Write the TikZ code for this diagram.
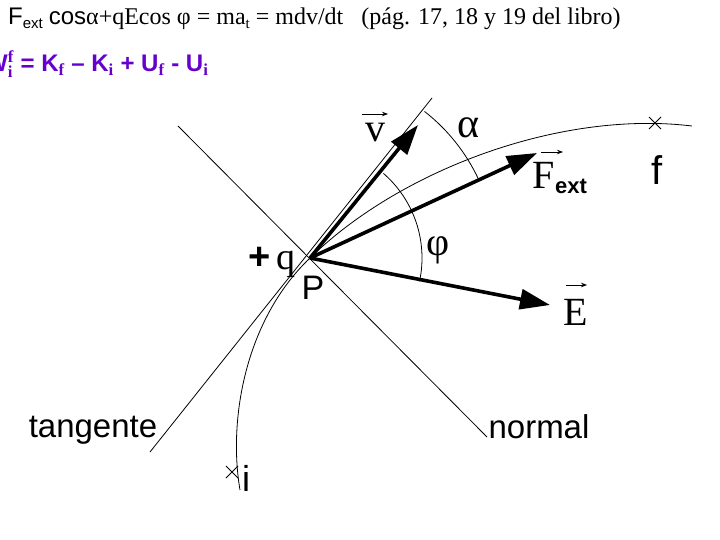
\documentclass[tikz,border=0pt]{standalone}
\usepackage{fontspec}
\setmainfont{Liberation Serif}
\setsansfont{Liberation Sans}
\usetikzlibrary{arrows.meta,calc}
\begin{document}
\begin{tikzpicture}[x=1pt,y=-1pt,
  thin/.style={draw,line width=0.8pt},
  vec/.style={draw,line width=3.6pt,-{Triangle[length=30pt,width=20pt]}},
  lab/.style={inner sep=0pt,anchor=center},
  cross/.style={inner sep=0pt}]
\clip (0,0) rectangle (720,540);
\useasboundingbox (0,0) rectangle (720,540);
\fill[white] (0,0) rectangle (720,540);
\coordinate (P) at (310,258);
\coordinate (T1) at (432,98);
\coordinate (T2) at (150,452);
\coordinate (N1) at (178,126);
\coordinate (N2) at (487,437);
\coordinate (vE) at (418,125);
\coordinate (fE) at (537,153);
\coordinate (eE) at (550,305);
\draw[thin] (T1) -- (T2);
\draw[thin] (N1) -- (N2);
\draw[thin] (240,490) .. controls (228,420) and (245,320) .. (P)
  .. controls (400,170) and (560,110) .. (692,126);
\draw[thin] (226,466) -- (238,478) (226,478) -- (238,466);
\draw[thin] (649,117) -- (661,129) (649,129) -- (661,117);
\draw[vec] (P) -- (vE);
\draw[vec] (P) -- (fE);
\draw[vec] (P) -- (eE);
\draw[thin] ($(P)+(-52:186)$) arc[start angle=-52,end angle=-25,radius=186];
\draw[thin] ($(P)+(-49:112)$) arc[start angle=-49,end angle=12,radius=112];
\node[lab,font=\fontsize{40}{40}\selectfont] (v) at (375,133) {v};
\draw[thin,-{Stealth[length=6pt]}] (362,114) -- (388,114);
\node[lab,font=\fontsize{42}{42}\selectfont] (al) at (468,128) {α};
\node[lab,font=\fontsize{40}{40}\selectfont] (F) at (560,178) {F\raisebox{-5pt}{\sffamily\bfseries\fontsize{22}{22}\selectfont ext}};
\draw[thin,-{Stealth[length=6pt]}] (541,152) -- (563,152);
\node[lab,font=\sffamily\fontsize{40}{40}\selectfont] (f) at (657,170) {f};
\node[lab,font=\fontsize{40}{40}\selectfont] (ph) at (438,250) {φ};
\node[lab,font=\fontsize{40}{40}\selectfont] (E) at (576,312) {E};
\draw[thin,-{Stealth[length=6pt]}] (566,285) -- (587,285);
\node[lab,font=\fontsize{38}{38}\selectfont] (q) at (272,262) {\textsf{\bfseries +}\,q};
\node[lab,font=\sffamily\fontsize{34}{34}\selectfont] (Pl) at (313,288) {P};
\node[lab,font=\sffamily\fontsize{33}{33}\selectfont] (tg) at (93,430) {tangente};
\node[lab,font=\sffamily\fontsize{33}{33}\selectfont] (nl) at (539,427) {normal};
\node[lab,font=\sffamily\fontsize{36}{36}\selectfont] (il) at (246,478) {i};
\node[anchor=west,inner sep=0pt,font=\fontsize{24}{24}\selectfont] (top) at (8,19)
 {\textsf{F}\raisebox{-4pt}{\sffamily\fontsize{15}{15}\selectfont ext} \textsf{cos}α+qEcos φ = ma\raisebox{-4pt}{\fontsize{15}{15}\selectfont t} = mdv/dt \ \ (pág. 17, 18 y 19 del libro)};
\node[anchor=west,inner sep=0pt,text={rgb,255:red,102;green,0;blue,204},font=\sffamily\bfseries\fontsize{24}{24}\selectfont] (W) at (-15,64)
 {W$_{\mathbf i}^{\mathbf f}$ = K$_{\mathbf f}$ – K$_{\mathbf i}$ + U$_{\mathbf f}$ - U$_{\mathbf i}$};
\end{tikzpicture}
\end{document}
